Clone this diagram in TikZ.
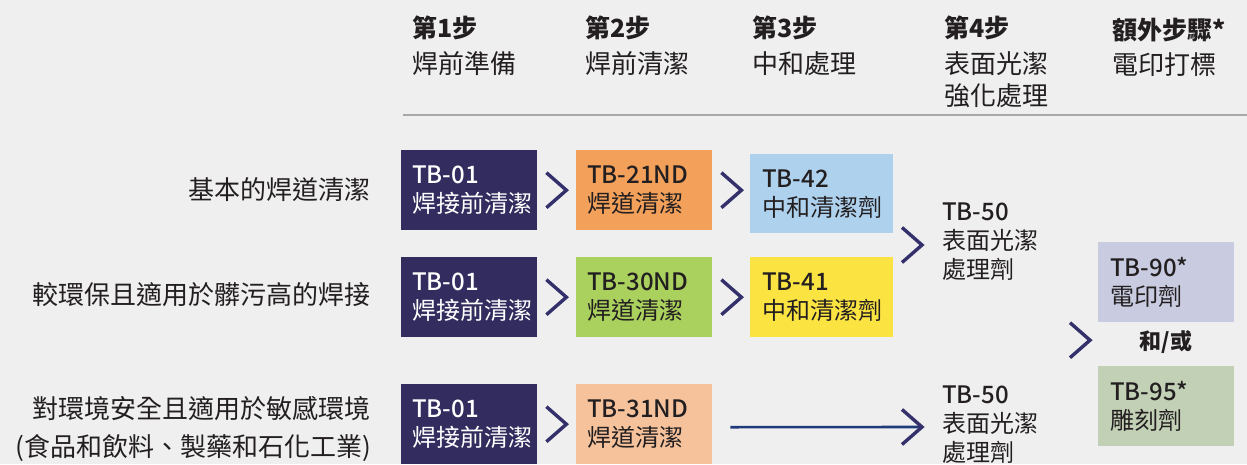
\documentclass[tikz,border=0pt]{standalone}
\usepackage{fontspec}
\setmainfont{Noto Sans CJK TC}
\newfontfamily\medfont{Noto Sans CJK TC Medium}
\usetikzlibrary{calc}
\definecolor{bgc}{HTML}{EFEFEF}
\definecolor{navybox}{HTML}{332D5F}
\definecolor{orangebox}{HTML}{F2A05A}
\definecolor{bluebox}{HTML}{AED1EE}
\definecolor{greenbox}{HTML}{AAD15E}
\definecolor{yellowbox}{HTML}{FBE442}
\definecolor{peachbox}{HTML}{F5C29C}
\definecolor{lavbox}{HTML}{C9CCE0}
\definecolor{sagebox}{HTML}{C2D1B6}
\definecolor{chevc}{HTML}{33306B}
\definecolor{linec}{HTML}{1F3A7A}
\definecolor{txt}{HTML}{231F20}
\definecolor{rulec}{HTML}{A8A8A8}
\newcommand\code[1]{{\medfont #1}}
\tikzset{
  prodbox/.style={anchor=north west, minimum width=136pt, minimum height=80pt, inner sep=0pt, draw=none},
  boxtxt/.style={anchor=west, align=left, inner sep=0pt, text=txt, font=\fontsize{24}{29}\selectfont},
  hdtitle/.style={anchor=west, inner sep=0pt, text=txt, font=\fontsize{25}{30}\selectfont\bfseries},
  hddesc/.style={anchor=west, inner sep=0pt, text=txt, font=\fontsize{26}{31}\selectfont},
  rowlabel/.style={anchor=east, inner sep=0pt, text=txt, font=\fontsize{26}{31}\selectfont},
  chev/.style={draw=chevc, line width=3.4pt, line join=miter},
  flowline/.style={draw=linec, line width=2.6pt},
}
\begin{document}
\begin{tikzpicture}[x=1pt,y=-1pt]
\fill[bgc] (0,0) rectangle (1247,464);
\useasboundingbox (0,0) rectangle (1247,464);

% headers
\node[hdtitle] (h1a) at (412,28) {第1步};
\node[hddesc]  (h1b) at (412,64) {焊前準備};
\node[hdtitle] (h2a) at (585,28) {第2步};
\node[hddesc]  (h2b) at (585,64) {焊前清潔};
\node[hdtitle] (h3a) at (752,28) {第3步};
\node[hddesc]  (h3b) at (752,64) {中和處理};
\node[hdtitle] (h4a) at (944,28) {第4步};
\node[hddesc]  (h4b) at (944,64) {表面光潔};
\node[hddesc]  (h4c) at (944,96) {強化處理};
\node[hdtitle] (h5a) at (1112,30) {額外步驟*};
\node[hddesc]  (h5b) at (1112,65) {電印打標};

\coordinate (rl) at (403,115);
\coordinate (rr) at (1247,115);
\draw[rulec, line width=1.4pt] (rl) -- (rr);

% row labels
\node[rowlabel] (r1) at (371,190) {基本的焊道清潔};
\node[rowlabel] (r2) at (371,295) {較環保且適用於髒污高的焊接};
\node[rowlabel] (r3a) at (371,409) {對環境安全且適用於敏感環境};
\node[rowlabel] (r3b) at (371,448) {(食品和飲料、製藥和石化工業)};

% row 1
\node[prodbox, fill=navybox] (b11) at (401,150) {};
\node[boxtxt, text=white] (t11) at ([xshift=11pt]b11.west) {\code{TB-01}\\焊接前清潔};
\node[prodbox, fill=orangebox] (b12) at (576,150) {};
\node[boxtxt] (t12) at ([xshift=11pt]b12.west) {\code{TB-21ND}\\焊道清潔};
\node[prodbox, fill=bluebox, minimum width=143pt, minimum height=79pt] (b13) at (750,154) {};
\node[boxtxt] (t13) at ([xshift=12pt]b13.west) {\code{TB-42}\\中和清潔劑};

% row 2
\node[prodbox, fill=navybox] (b21) at (401,257) {};
\node[boxtxt, text=white] (t21) at ([xshift=11pt]b21.west) {\code{TB-01}\\焊接前清潔};
\node[prodbox, fill=greenbox] (b22) at (576,257) {};
\node[boxtxt] (t22) at ([xshift=11pt]b22.west) {\code{TB-30ND}\\焊道清潔};
\node[prodbox, fill=yellowbox, minimum width=143pt] (b23) at (750,257) {};
\node[boxtxt] (t23) at ([xshift=12pt]b23.west) {\code{TB-41}\\中和清潔劑};

% row 3
\node[prodbox, fill=navybox] (b31) at (401,384) {};
\node[boxtxt, text=white] (t31) at ([xshift=11pt]b31.west) {\code{TB-01}\\焊接前清潔};
\node[prodbox, fill=peachbox] (b32) at (576,384) {};
\node[boxtxt] (t32) at ([xshift=11pt]b32.west) {\code{TB-31ND}\\焊道清潔};

% step 4
\node[boxtxt, align=left] (t50a) at (942,242) {\code{TB-50}\\表面光潔\\處理劑};
\node[boxtxt, align=left] (t50b) at (942,425) {\code{TB-50}\\表面光潔\\處理劑};

% extra step
\node[prodbox, fill=lavbox] (b90) at (1098,242) {};
\node[boxtxt] (t90) at ([xshift=12pt]b90.west) {\code{TB-90*}\\電印劑};
\node[prodbox, fill=sagebox] (b95) at (1098,366) {};
\node[boxtxt] (t95) at ([xshift=12pt]b95.west) {\code{TB-95*}\\雕刻劑};
\node[inner sep=0pt, text=txt, font=\fontsize{22}{26}\selectfont\bfseries] (ao) at (1166,342) {和/或};
\coordinate (c5) at ($(b90.south west)!0.5!(b95.north west)$);

% chevrons
\draw[chev] ([shift={(9,-17.5)}]b11.east) -- ([shift={(29,0)}]b11.east) -- ([shift={(9,17.5)}]b11.east);
\draw[chev] ([shift={(9,-17.5)}]b12.east) -- ([shift={(29,0)}]b12.east) -- ([shift={(9,17.5)}]b12.east);
\draw[chev] ([shift={(9,-17.5)}]b21.east) -- ([shift={(29,0)}]b21.east) -- ([shift={(9,17.5)}]b21.east);
\draw[chev] ([shift={(9,-17.5)}]b22.east) -- ([shift={(29,0)}]b22.east) -- ([shift={(9,17.5)}]b22.east);
\draw[chev] ([shift={(9,-17.5)}]b31.east) -- ([shift={(29,0)}]b31.east) -- ([shift={(9,17.5)}]b31.east);
\draw[chev] ([shift={(-40,-14.5)}]t50a.west) -- ([shift={(-20,3)}]t50a.west) -- ([shift={(-40,20.5)}]t50a.west);
\draw[flowline] ([shift={(18,3)}]b32.east) -- ([shift={(-21,2)}]t50b.west);
\draw[chev] ([shift={(-40,-15.5)}]t50b.west) -- ([shift={(-20,2)}]t50b.west) -- ([shift={(-40,19.5)}]t50b.west);
\draw[chev] ([shift={(-28,-21.5)}]c5) -- ([shift={(-8,-4)}]c5) -- ([shift={(-28,13.5)}]c5);
\end{tikzpicture}
\end{document}
